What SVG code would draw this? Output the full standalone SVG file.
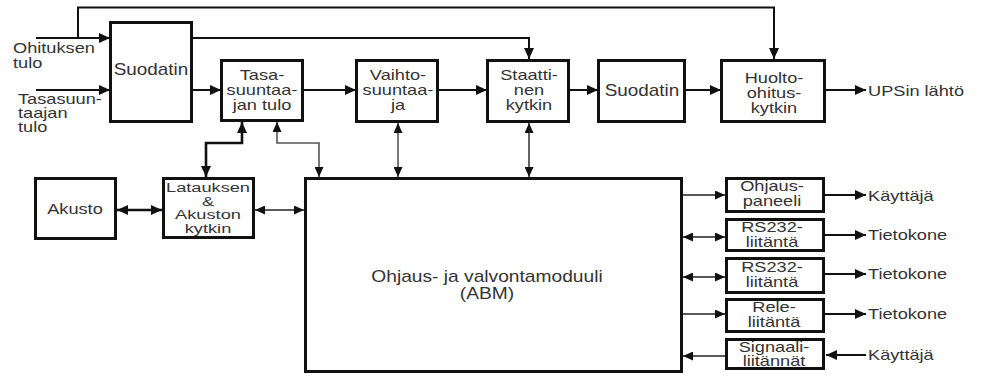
<svg xmlns="http://www.w3.org/2000/svg" width="982" height="376" viewBox="0 0 982 376">
<style>
.box{fill:#fff;stroke:#111;stroke-width:3}
.c{fill:none;stroke:#111;stroke-width:2}
.ck{fill:none;stroke:#111;stroke-width:2.6}
.cs{fill:none;stroke:#222;stroke-width:1.4}
.cg{fill:none;stroke:#555;stroke-width:1.6}
.t{font-family:"Liberation Sans",Arial,sans-serif;font-size:14px;fill:#333;text-anchor:middle}
.l{text-anchor:start}
.big{font-size:16px}
.sm{font-size:13.5px}
</style>
<defs>
<marker id="a" markerUnits="userSpaceOnUse" markerWidth="11" markerHeight="10" refX="11" refY="5" orient="auto-start-reverse"><path d="M0,0 L11,5 L0,10 z" fill="#111"/></marker>
<marker id="s" markerUnits="userSpaceOnUse" markerWidth="10" markerHeight="9" refX="10" refY="4.5" orient="auto-start-reverse"><path d="M0,0 L10,4.5 L0,9 z" fill="#111"/></marker>
</defs>
<rect width="982" height="376" fill="#fff"/>
<g id="connectors">
<path class="c" d="M78,38 V7.5 H774 V59" marker-end="url(#a)"/>
<path class="c" d="M36,38 H110" marker-end="url(#a)"/>
<path class="c" d="M36,90 H110" marker-end="url(#a)"/>
<path class="c" d="M192,38 H529 V59" marker-end="url(#a)"/>
<path class="c" d="M192,90 H221" marker-end="url(#a)"/>
<path class="c" d="M303,90 H356" marker-end="url(#a)"/>
<path class="c" d="M438,90 H487" marker-end="url(#a)"/>
<path class="c" d="M569,90 H598" marker-end="url(#a)"/>
<path class="c" d="M685,90 H721" marker-end="url(#a)"/>
<path class="c" d="M825,90 H866" marker-end="url(#a)"/>
<path class="ck" d="M206,177 V143 H242 V122" marker-start="url(#a)" marker-end="url(#a)"/>
<path class="cg" d="M319,177 V143 H277 V122" marker-start="url(#s)" marker-end="url(#s)"/>
<path class="cg" d="M398,123 V177" marker-start="url(#s)" marker-end="url(#s)"/>
<path class="cs" d="M529,123 V177" marker-start="url(#s)" marker-end="url(#s)"/>
<path class="ck" d="M117,210 H162" marker-start="url(#a)" marker-end="url(#a)"/>
<path class="cs" d="M255,210 H304" marker-start="url(#s)" marker-end="url(#s)"/>
<path class="cs" d="M682,195 H725" marker-end="url(#s)"/>
<path class="cs" d="M683,237 H725" marker-start="url(#s)" marker-end="url(#s)"/>
<path class="cs" d="M683,277 H725" marker-start="url(#s)" marker-end="url(#s)"/>
<path class="cs" d="M682,314 H725" marker-end="url(#s)"/>
<path class="cs" d="M725,356 H683" marker-end="url(#s)"/>
<path class="c" d="M825,195 H866" marker-end="url(#a)"/>
<path class="c" d="M825,235 H866" marker-end="url(#a)"/>
<path class="c" d="M825,274 H866" marker-end="url(#a)"/>
<path class="c" d="M825,314 H866" marker-end="url(#a)"/>
<path class="c" d="M866,355 H826" marker-end="url(#a)"/>
</g>
<g id="inputs">
<text class="t l" transform="translate(13 53) scale(1.3 1)"><tspan x="0" y="0">Ohituksen</tspan><tspan x="0" y="15">tulo</tspan></text>
<text class="t l" transform="translate(18 104) scale(1.3 1)"><tspan x="0" y="0">Tasasuun-</tspan><tspan x="0" y="14">taajan</tspan><tspan x="0" y="28">tulo</tspan></text>
</g>
<g id="suodatin1">
<rect class="box" x="110.5" y="22.5" width="81" height="99"/>
<text class="t big" transform="translate(151 75) scale(1.18 1)">Suodatin</text>
</g>
<g id="tasasuuntaaja">
<rect class="box" x="221.5" y="60.5" width="81" height="60"/>
<text class="t" transform="translate(262 80) scale(1.3 1)"><tspan x="0" y="0">Tasa-</tspan><tspan x="0" y="15">suuntaa-</tspan><tspan x="0" y="30">jan tulo</tspan></text>
</g>
<g id="vaihtosuuntaaja">
<rect class="box" x="356.5" y="60.5" width="81" height="61"/>
<text class="t" transform="translate(398 80) scale(1.3 1)"><tspan x="0" y="0">Vaihto-</tspan><tspan x="0" y="15">suuntaa-</tspan><tspan x="0" y="30">ja</tspan></text>
</g>
<g id="staattinen">
<rect class="box" x="487.5" y="60.5" width="81" height="61"/>
<text class="t" transform="translate(529 80) scale(1.3 1)"><tspan x="0" y="0">Staatti-</tspan><tspan x="0" y="15">nen</tspan><tspan x="0" y="30">kytkin</tspan></text>
</g>
<g id="suodatin2">
<rect class="box" x="598.5" y="60.5" width="86" height="61"/>
<text class="t big" transform="translate(642 96) scale(1.18 1)">Suodatin</text>
</g>
<g id="huolto">
<rect class="box" x="721.5" y="60.5" width="103" height="61"/>
<text class="t" transform="translate(774 83) scale(1.3 1)"><tspan x="0" y="0">Huolto-</tspan><tspan x="0" y="15">ohitus-</tspan><tspan x="0" y="30">kytkin</tspan></text>
</g>
<g id="lahto">
<text class="t l" transform="translate(868 96) scale(1.3 1)">UPSin lähtö</text>
</g>
<g id="akusto">
<rect class="box" x="35.5" y="178.5" width="80" height="60"/>
<text class="t" transform="translate(75 214) scale(1.3 1)">Akusto</text>
</g>
<g id="latauksen">
<rect class="box" x="163.5" y="178.5" width="90" height="59"/>
<text class="t sm" transform="translate(208 192) scale(1.35 1)"><tspan x="0" y="0">Latauksen</tspan><tspan x="0" y="13.7">&amp;</tspan><tspan x="0" y="27.4">Akuston</tspan><tspan x="0" y="41">kytkin</tspan></text>
</g>
<g id="abm">
<rect class="box" x="305.5" y="178.5" width="376" height="193"/>
<text class="t big" transform="translate(487 282) scale(1.2 1)"><tspan x="0" y="0">Ohjaus- ja valvontamoduuli</tspan><tspan x="0" y="17">(ABM)</tspan></text>
</g>
<g id="ohjauspaneeli">
<rect class="box" x="726.5" y="178.5" width="97" height="33"/>
<text class="t" transform="translate(772 191) scale(1.3 1)"><tspan x="0" y="0">Ohjaus-</tspan><tspan x="0" y="15">paneeli</tspan></text>
</g>
<g id="rs232a">
<rect class="box" x="726.5" y="219.5" width="97" height="31"/>
<text class="t" transform="translate(772 232) scale(1.3 1)"><tspan x="0" y="0">RS232-</tspan><tspan x="0" y="15">liitäntä</tspan></text>
</g>
<g id="rs232b">
<rect class="box" x="726.5" y="258.5" width="97" height="34"/>
<text class="t" transform="translate(772 272) scale(1.3 1)"><tspan x="0" y="0">RS232-</tspan><tspan x="0" y="15">liitäntä</tspan></text>
</g>
<g id="rele">
<rect class="box" x="726.5" y="299.5" width="97" height="32"/>
<text class="t" transform="translate(774 312) scale(1.3 1)"><tspan x="0" y="0">Rele-</tspan><tspan x="0" y="15">liitäntä</tspan></text>
</g>
<g id="signaali">
<rect class="box" x="726.5" y="339.5" width="97" height="29"/>
<text class="t" transform="translate(774 352) scale(1.3 1)"><tspan x="0" y="0">Signaali-</tspan><tspan x="0" y="14">liitännät</tspan></text>
</g>
<g id="outputs">
<text class="t l" transform="translate(868 201) scale(1.3 1)">Käyttäjä</text>
<text class="t l" transform="translate(868 240) scale(1.3 1)">Tietokone</text>
<text class="t l" transform="translate(868 279) scale(1.3 1)">Tietokone</text>
<text class="t l" transform="translate(868 319) scale(1.3 1)">Tietokone</text>
<text class="t l" transform="translate(868 360) scale(1.3 1)">Käyttäjä</text>
</g>
</svg>
